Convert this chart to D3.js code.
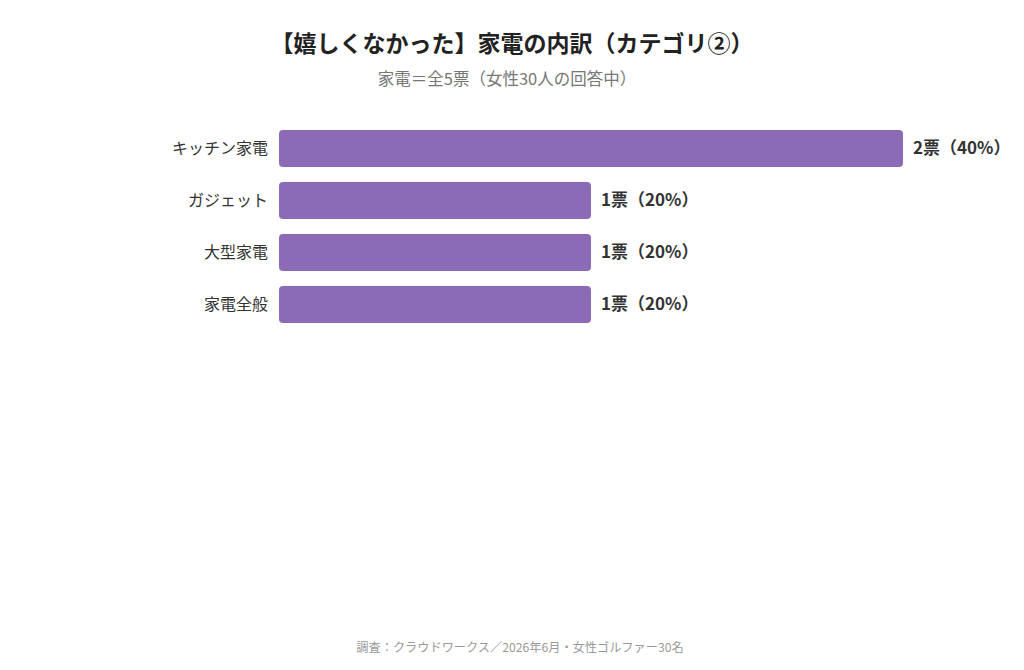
<!DOCTYPE html>
<html><head><meta charset="utf-8">
<script src="https://cdn.jsdelivr.net/npm/d3@7"></script>
<style>
html,body{margin:0;padding:0;background:#fff;}
svg{display:block;font-family:"Noto Sans CJK JP","Noto Sans",sans-serif;}
</style></head>
<body>
<svg id="chart" width="1024" height="670"></svg>
<script>
const categories = ["キッチン家電","ガジェット","大型家電","家電全般"];
const votes = [2,1,1,1];
const percents = [40,20,20,20];
const titleText = "【嬉しくなかった】家電の内訳（カテゴリ②）";
const subtitleText = "家電＝全5票（女性30人の回答中）";
const footerText = "調査：クラウドワークス／2026年6月・女性ゴルファー30名";

const svg = d3.select("#chart");
const x = d3.scaleLinear().domain([0,2]).range([279,903]);
const y = d3.scaleBand().domain(categories).range([122.5,330.5]).paddingInner(0.29).paddingOuter(0.145);

svg.append("text").attr("x",512).attr("y",52).attr("text-anchor","middle")
  .attr("font-size",23).attr("font-weight","bold").attr("fill","#222").text(titleText);
svg.append("text").attr("x",507).attr("y",85).attr("text-anchor","middle")
  .attr("font-size",16.5).attr("fill","#777").text(subtitleText);

const data = categories.map((c,i)=>({c, v:votes[i], p:percents[i]}));

svg.selectAll("rect.bar").data(data).enter().append("rect").attr("class","bar")
  .attr("x",x(0)).attr("y",d=>y(d.c)).attr("width",d=>x(d.v)-x(0)).attr("height",y.bandwidth())
  .attr("rx",4).attr("ry",4).attr("fill","#8b6bb5");

svg.selectAll("text.cat").data(data).enter().append("text").attr("class","cat")
  .attr("x",268).attr("y",d=>y(d.c)+y.bandwidth()/2).attr("dy","0.35em")
  .attr("text-anchor","end").attr("font-size",16).attr("fill","#333").text(d=>d.c);

svg.selectAll("text.val").data(data).enter().append("text").attr("class","val")
  .attr("x",d=>x(d.v)+10).attr("y",d=>y(d.c)+y.bandwidth()/2).attr("dy","0.35em")
  .attr("font-size",17).attr("font-weight","bold").attr("fill","#333")
  .text(d=>d.v+"票（"+d.p+"%）");

svg.append("text").attr("x",520).attr("y",652).attr("text-anchor","middle")
  .attr("font-size",12.2).attr("fill","#999").text(footerText);
</script>
</body></html>
